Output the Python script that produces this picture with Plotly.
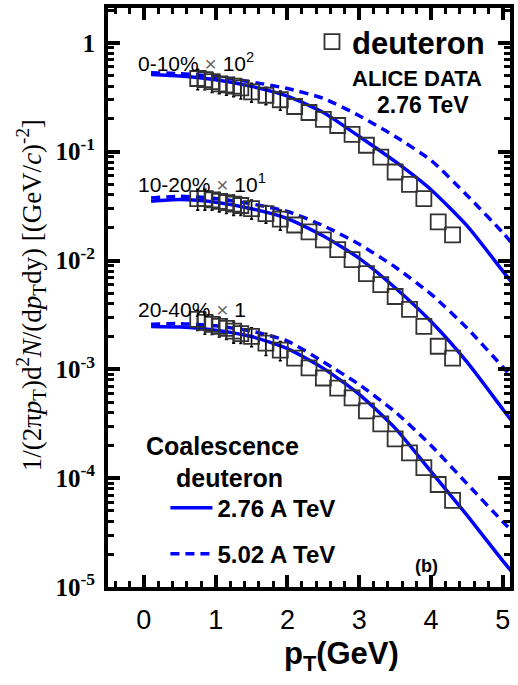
import plotly.graph_objects as go

# ---------------- data ----------------
pt_data = [0.75, 0.85, 0.95, 1.05, 1.15, 1.25, 1.35, 1.5, 1.7, 1.9, 2.1, 2.3, 2.5,
           2.7, 2.9, 3.1, 3.3, 3.5, 3.7, 3.9, 4.1, 4.3]
d_0_10 = [0.47, 0.46, 0.44, 0.42, 0.41, 0.40, 0.385, 0.355, 0.33, 0.30, 0.26, 0.229,
          0.198, 0.174, 0.144, 0.1145, 0.089, 0.065, 0.050, 0.037, 0.0226, 0.0172]
d_10_20 = [0.037, 0.037, 0.036, 0.035, 0.034, 0.033, 0.032, 0.030, 0.027, 0.024,
           0.0212, 0.0183, 0.0155, 0.01256, 0.01017, 0.00757, 0.00601, 0.00467,
           0.00355, 0.00248, 0.00163, 0.00127]
d_20_40 = [0.00288, 0.00270, 0.00259, 0.00248, 0.00238, 0.00224, 0.00213, 0.00201,
           0.00174, 0.00150, 0.00127, 0.00103, 0.000832, 0.000673, 0.000546,
           0.000415, 0.000316, 0.000230, 0.000171, 0.000125, 0.0000875, 0.0000624]
# error caps (only the low-pT points carry them)
e_0_10 = [0.10, 0.09, 0.09, 0.08, 0.08, 0.08, 0.08, 0.07, 0.06, 0.06]
e_10_20 = [0.008, 0.008, 0.007, 0.007, 0.007, 0.007, 0.006, 0.006, 0.005, 0.005]
e_20_40 = [0.0006, 0.0006, 0.0005, 0.0005, 0.0005, 0.0005, 0.0004, 0.0004, 0.0004,
           0.0003]

pt_model = [0.1, 0.5, 1.0, 1.5, 2.0, 2.5, 3.0, 3.5, 4.0, 4.5, 5.0, 5.15]
solid_0_10 = [0.511, 0.495, 0.457, 0.398, 0.324, 0.229, 0.138, 0.0813, 0.0447,
              0.0209, 0.00800, 0.00600]
dash_0_10 = [0.532, 0.521, 0.490, 0.437, 0.380, 0.309, 0.214, 0.138, 0.0832,
             0.0398, 0.0180, 0.0138]
solid_10_20 = [0.0351, 0.0363, 0.0343, 0.0299, 0.0243, 0.0168, 0.01047, 0.00562,
               0.00275, 0.00117, 0.000430, 0.000320]
dash_10_20 = [0.0376, 0.0389, 0.0372, 0.0331, 0.0282, 0.0209, 0.0141, 0.00871,
              0.00490, 0.00240, 0.00105, 0.000813]
solid_20_40 = [0.00248, 0.00245, 0.00229, 0.00200, 0.00155, 0.00102, 0.000589,
               0.000288, 0.000115, 0.0000457, 0.0000174, 0.0000132]
dash_20_40 = [0.00260, 0.00263, 0.00251, 0.00224, 0.00182, 0.00117, 0.000724,
              0.000407, 0.000200, 0.0000891, 0.0000398, 0.0000316]

x_ticks = [0, 1, 2, 3, 4, 5]
y_ticks = [1e-5, 1e-4, 1e-3, 1e-2, 1e-1, 1]
y_ticktext = ["<b>10<sup>-5</sup></b>", "<b>10<sup>-4</sup></b>", "<b>10<sup>-3</sup></b>",
              "<b>10<sup>-2</sup></b>", "<b>10<sup>-1</sup></b>", "<b>1</b>"]
y_minor = [m * 10 ** e for e in range(-5, 1) for m in range(2, 10)]

# ---------------- layout geometry ----------------
W, H = 518, 685
L, R, T, B = 108, 4, 5, 98
PW, PH = W - L - R, H - T - B


def px2x(px):
    return (px - L) / PW


def py2y(py):
    return (H - B - py) / PH


BLUE = "#0000ff"
SANS = "Liberation Sans, Arial, sans-serif"
SERIF = "Liberation Serif, Times New Roman, serif"

fig = go.Figure()

curves = [
    (solid_0_10, "solid", "<b>2.76 A TeV</b>", True, "g1"),
    (dash_0_10, "dash", "<b>5.02 A TeV</b>", True, "g2"),
    (solid_10_20, "solid", "s2", False, "g1"),
    (dash_10_20, "dash", "d2", False, "g2"),
    (solid_20_40, "solid", "s3", False, "g1"),
    (dash_20_40, "dash", "d3", False, "g2"),
]
for yv, dash, name, show, grp in curves:
    fig.add_trace(go.Scatter(
        x=pt_model, y=yv, mode="lines", name=name, showlegend=show,
        legendgroup=grp,
        line=dict(color=BLUE, width=3.5, shape="spline", smoothing=0.6,
                  dash="9px,6px" if dash == "dash" else "solid"),
    ))

for i, (yv, ev) in enumerate([(d_0_10, e_0_10), (d_10_20, e_10_20), (d_20_40, e_20_40)]):
    fig.add_trace(go.Scatter(
        x=pt_data, y=yv, mode="markers", name="<b>deuteron</b>",
        showlegend=(i == 0), legend="legend2",
        marker=dict(symbol="square-open", size=15, color="#333333",
                    line=dict(width=1.8, color="#333333")),
        error_y=dict(type="data", array=ev, symmetric=True, color="black",
                     thickness=1.6, width=1.6),
    ))

fig.update_layout(
    width=W, height=H,
    margin=dict(l=L, r=R, t=T, b=B),
    paper_bgcolor="white", plot_bgcolor="white",
    font=dict(family=SANS, color="black"),
    xaxis=dict(
        range=[-0.5, 5.1], tickvals=x_ticks, ticks="inside", ticklen=12,
        tickwidth=3.5, tickcolor="black", showline=True, linewidth=4,
        linecolor="black", mirror="allticks", showgrid=False, zeroline=False,
        tickfont=dict(family=SANS, size=27), ticklabelstandoff=6,
        minor=dict(ticks="inside", dtick=0.2, tick0=0, ticklen=6, tickwidth=3,
                   tickcolor="black", showgrid=False),
    ),
    yaxis=dict(
        type="log", range=[-5, 0.32], tickvals=y_ticks, ticktext=y_ticktext,
        ticks="inside", ticklen=12, tickwidth=3.5, tickcolor="black",
        showline=True, linewidth=4, linecolor="black", mirror="allticks",
        showgrid=False, zeroline=False,
        tickfont=dict(family=SERIF, size=25), ticklabelstandoff=4,
        minor=dict(ticks="inside", tickvals=y_minor, ticklen=6, tickwidth=3,
                   tickcolor="black", showgrid=False),
    ),
    legend=dict(
        x=px2x(166), y=py2y(485), xanchor="left", yanchor="top",
        bgcolor="rgba(0,0,0,0)", font=dict(family=SANS, size=24),
        tracegroupgap=12, itemwidth=42,
    ),
    legend2=dict(
        x=px2x(314), y=py2y(12), xanchor="left", yanchor="top",
        bgcolor="rgba(0,0,0,0)", font=dict(family=SANS, size=31),
    ),
)

ann = []


def add_text(text, px, py, size, xanchor="center", family=SANS, **kw):
    ann.append(dict(text=text, x=px2x(px), y=py2y(py), xref="paper", yref="paper",
                    xanchor=xanchor, yanchor="middle", showarrow=False,
                    font=dict(family=family, size=size, color="black"), **kw))


X = "<span style='color:#666666'>×</span>"
add_text("0-10% " + X + " 10<sup>2</sup>", 136, 59, 21, xanchor="left")
add_text("10-20% " + X + " 10<sup>1</sup>", 136, 181, 21, xanchor="left")
add_text("20-40% " + X + " 1", 136, 308, 21, xanchor="left")
add_text("<b>ALICE DATA</b>", 420, 76, 22)
add_text("<b>2.76 TeV</b>", 426, 103, 23)
add_text("<b>Coalescence</b>", 224, 445, 25)
add_text("<b>deuteron</b>", 231, 477, 25)
add_text("<b>(b)</b>", 430, 566, 18)
add_text("<b>p<sub>T</sub>(GeV)</b>", 344, 656, 31)
add_text("1/(2π<i>p</i><sub>T</sub>)d<sup>2</sup><i>N</i>/(d<i>p</i><sub>T</sub>dy)"
         " [(GeV/<i>c</i>)<sup>-2</sup>]", 30, 294, 27, family=SERIF, textangle=-90)
fig.update_layout(annotations=ann)

fig.write_html("out.html")
